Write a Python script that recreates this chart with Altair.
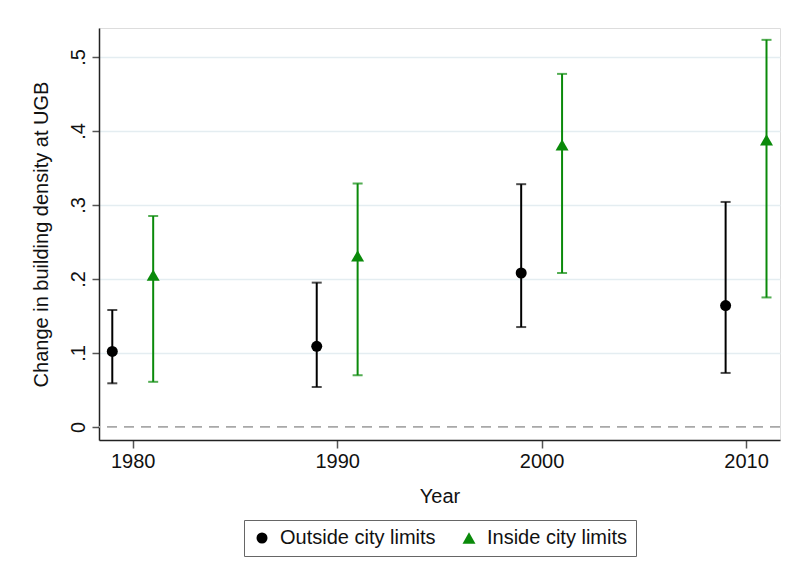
import altair as alt
import pandas as pd

groups = ["Outside city limits", "Inside city limits"]

years_out = [1979, 1989, 1999, 2009]
est_out = [0.102, 0.109, 0.208, 0.164]
lo_out = [0.059, 0.054, 0.135, 0.073]
hi_out = [0.158, 0.195, 0.328, 0.304]

years_in = [1981, 1991, 2001, 2011]
est_in = [0.205, 0.231, 0.381, 0.388]
lo_in = [0.061, 0.070, 0.208, 0.175]
hi_in = [0.285, 0.329, 0.477, 0.523]

x_ticks = [1980, 1990, 2000, 2010]
y_ticks = [0, 0.1, 0.2, 0.3, 0.4, 0.5]
ref_line = [0]

rows = []
for g, ys, es, ls, hs in [(groups[0], years_out, est_out, lo_out, hi_out),
                          (groups[1], years_in, est_in, lo_in, hi_in)]:
    for yr, e, l, h in zip(ys, es, ls, hs):
        rows.append({"group": g, "year": yr, "est": e, "lo": l, "hi": h})
df = pd.DataFrame(rows)

FONT = "Arial, Liberation Sans, sans-serif"
colors = ["#000000", "#0a8a0a"]

xscale = alt.Scale(domain=[1978.35, 2011.66], nice=False, zero=False)
yscale = alt.Scale(domain=[-0.0176, 0.539], nice=False, zero=False)

xaxis = alt.Axis(values=x_ticks, format="d", grid=False, title="Year",
                 labelFontSize=20, titleFontSize=20, labelFont=FONT, titleFont=FONT,
                 labelColor="#111", titleColor="#111", titleFontWeight="normal",
                 tickSize=8, tickWidth=1.5, tickColor="#555", domainColor="#222",
                 domainWidth=1.5, labelPadding=3, titlePadding=15)
yaxis = alt.Axis(values=y_ticks, grid=True,
                 gridColor="#e4edf1", gridWidth=1.5,
                 gridOpacity={"condition": {"test": "datum.value === 0", "value": 0}, "value": 1},
                 labelExpr="datum.value == 0 ? '0' : replace(format(datum.value, '.1f'), '0.', '.')",
                 labelAngle=270, labelAlign="center", labelBaseline="middle",
                 labelFontSize=20, labelFont=FONT, labelColor="#111",
                 tickSize=7, tickWidth=1.5, tickColor="#555", domainColor="#222",
                 domainWidth=1.5, labelPadding=14,
                 title="Change in building density at UGB", titleFontSize=20,
                 titleFont=FONT, titleColor="#111", titleFontWeight="normal",
                 titleAngle=270, titleX=-58, titleY=206, titleAlign="center",
                 titleBaseline="middle")

color = alt.Color("group:N", scale=alt.Scale(domain=groups, range=colors),
                  legend=alt.Legend(title=None, orient="none", legendX=145, legendY=492,
                                    direction="horizontal", fillColor="white",
                                    strokeColor="#666", padding=8, labelFontSize=20,
                                    labelFont=FONT, labelColor="#111", symbolSize=150,
                                    labelOffset=8, columnPadding=23,
                                    symbolOpacity=1, symbolStrokeWidth=0))
shape = alt.Shape("group:N", scale=alt.Scale(domain=groups, range=["circle", "triangle-up"]))

base = alt.Chart(df)

zero = alt.Chart(pd.DataFrame({"ref": ref_line})).mark_rule(
    strokeDash=[10, 7], color="#a8a8a8", strokeWidth=1.8
).encode(y=alt.Y("ref:Q", scale=yscale, axis=yaxis))

bars = base.mark_rule(strokeWidth=2).encode(
    x=alt.X("year:Q", scale=xscale, axis=xaxis),
    y=alt.Y("lo:Q", scale=yscale, axis=yaxis),
    y2="hi:Q",
    color=color,
)

cap_lo = base.mark_tick(orient="horizontal", size=10, thickness=2).encode(
    x=alt.X("year:Q", scale=xscale, axis=xaxis),
    y=alt.Y("lo:Q", scale=yscale, axis=yaxis),
    color=color,
)
cap_hi = base.mark_tick(orient="horizontal", size=10, thickness=2).encode(
    x=alt.X("year:Q", scale=xscale, axis=xaxis),
    y=alt.Y("hi:Q", scale=yscale, axis=yaxis),
    color=color,
)

pts = base.mark_point(filled=True, opacity=1).encode(
    x=alt.X("year:Q", scale=xscale, axis=xaxis),
    y=alt.Y("est:Q", scale=yscale, axis=yaxis),
    color=color,
    shape=shape,
    size=alt.Size("group:N", scale=alt.Scale(domain=groups, range=[121, 169]), legend=None),
)

chart = alt.layer(zero, bars, cap_lo, cap_hi, pts).properties(
    width=681, height=412,
    autosize=alt.AutoSizeParams(type="none"),
    padding={"left": 91, "top": 20, "right": 7, "bottom": 124},
).configure_view(stroke=None).configure(background="white")

chart.save("out.html", embed_options={"renderer": "svg", "actions": False})
